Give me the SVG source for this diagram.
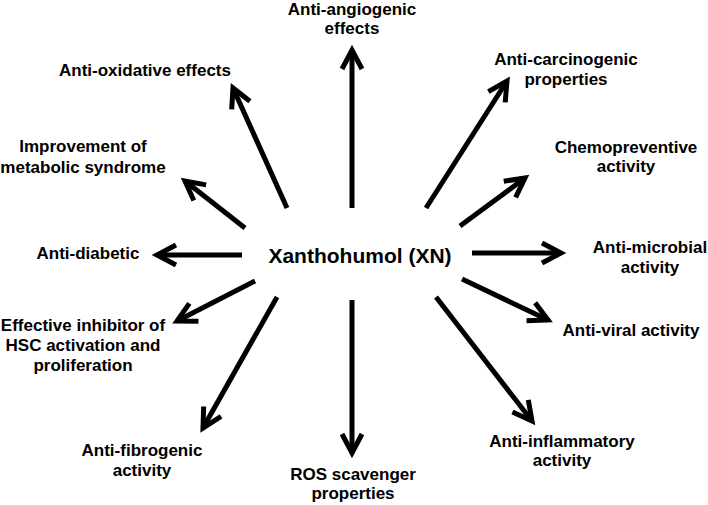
<svg xmlns="http://www.w3.org/2000/svg" width="708" height="505" viewBox="0 0 708 505">
<defs>
<style>
text{font-family:"Liberation Sans",Arial,sans-serif;font-weight:bold;fill:#000;text-anchor:middle}
.lbl{font-size:17px}
.main{font-size:21px}
.arr{stroke:#000;stroke-width:5;fill:none;marker-end:url(#head)}
</style>
<marker id="head" markerUnits="userSpaceOnUse" viewBox="-26 -16 32 32" refX="0" refY="0" markerWidth="32" markerHeight="32" orient="auto" overflow="visible">
<path d="M-19,-10 L0,0 L-19,10" fill="none" stroke="#000" stroke-width="5" stroke-linejoin="miter"/>
</marker>
</defs>
<rect width="708" height="505" fill="#fff"/>
<g id="connectors">
<line class="arr" x1="352" y1="208" x2="352" y2="50"/>
<line class="arr" x1="352" y1="300" x2="352" y2="453"/>
<line class="arr" x1="242" y1="255" x2="157" y2="255"/>
<line class="arr" x1="472" y1="253" x2="561" y2="253"/>
<line class="arr" x1="287" y1="208" x2="233" y2="88"/>
<line class="arr" x1="245" y1="228" x2="185" y2="181"/>
<line class="arr" x1="426" y1="208" x2="507" y2="81"/>
<line class="arr" x1="460" y1="226" x2="525" y2="178"/>
<line class="arr" x1="255" y1="281" x2="177" y2="321"/>
<line class="arr" x1="277" y1="297" x2="203" y2="428"/>
<line class="arr" x1="462" y1="279" x2="548" y2="320"/>
<line class="arr" x1="436" y1="297" x2="532" y2="421"/>
</g>
<g id="xn"><text class="main" x="360" y="263">Xanthohumol (XN)</text></g>
<g id="angiogenic"><text class="lbl" x="352" y="15">Anti-angiogenic</text><text class="lbl" x="352" y="34">effects</text></g>
<g id="oxidative"><text class="lbl" x="145" y="76">Anti-oxidative effects</text></g>
<g id="metabolic"><text class="lbl" x="83" y="152">Improvement of</text><text class="lbl" x="83" y="173">metabolic syndrome</text></g>
<g id="diabetic"><text class="lbl" x="88" y="259">Anti-diabetic</text></g>
<g id="hsc"><text class="lbl" x="83" y="331">Effective inhibitor of</text><text class="lbl" x="83" y="351">HSC activation and</text><text class="lbl" x="83" y="371">proliferation</text></g>
<g id="fibrogenic"><text class="lbl" x="142" y="456">Anti-fibrogenic</text><text class="lbl" x="142" y="476">activity</text></g>
<g id="ros"><text class="lbl" x="353" y="480">ROS scavenger</text><text class="lbl" x="353" y="499">properties</text></g>
<g id="inflammatory"><text class="lbl" x="562" y="447">Anti-inflammatory</text><text class="lbl" x="562" y="466">activity</text></g>
<g id="viral"><text class="lbl" x="631" y="336">Anti-viral activity</text></g>
<g id="microbial"><text class="lbl" x="650" y="253">Anti-microbial</text><text class="lbl" x="650" y="273">activity</text></g>
<g id="chemo"><text class="lbl" x="626" y="153">Chemopreventive</text><text class="lbl" x="626" y="172">activity</text></g>
<g id="carcinogenic"><text class="lbl" x="566" y="65">Anti-carcinogenic</text><text class="lbl" x="566" y="85">properties</text></g>
</svg>
